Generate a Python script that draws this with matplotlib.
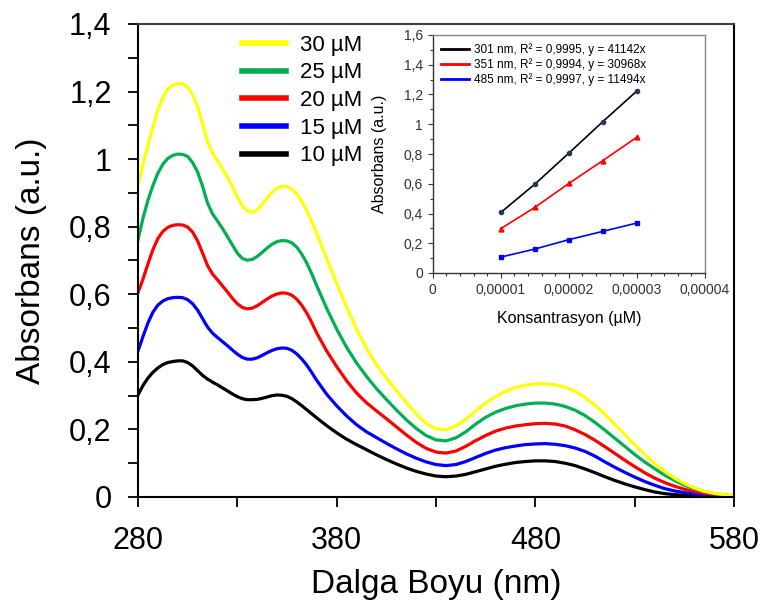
import numpy as np
import matplotlib.pyplot as plt
from matplotlib.ticker import FixedLocator, MultipleLocator, FuncFormatter

plt.rcParams['font.family'] = ['Liberation Sans', 'DejaVu Sans']

# wavelength (nm): 2.5 nm steps up to 370, then 5 nm
wl = [280, 282.5, 285, 287.5, 290, 292.5, 295, 297.5, 300, 302.5, 305, 307.5, 310, 312.5,
      315, 317.5, 320, 322.5, 325, 327.5, 330, 332.5, 335, 337.5, 340, 342.5, 345, 347.5,
      350, 352.5, 355, 357.5, 360, 362.5, 365, 367.5, 370,
      375, 380, 385, 390, 395, 400, 405, 410, 415, 420, 425, 430, 435, 440, 445, 450, 455,
      460, 465, 470, 475, 480, 485, 490, 495, 500, 505, 510, 515, 520, 525, 530, 535, 540,
      545, 550, 555, 560, 565, 570, 575, 580]

abs_30 = [0.923, 0.985, 1.042, 1.095, 1.145, 1.183, 1.207, 1.219, 1.224, 1.223, 1.213, 1.19, 1.155, 1.105,
          1.052, 1.018, 0.995, 0.972, 0.947, 0.918, 0.888, 0.862, 0.847, 0.843, 0.85, 0.866, 0.885, 0.902,
          0.914, 0.92, 0.919, 0.911, 0.896, 0.874, 0.847, 0.815, 0.78,
          0.705, 0.632, 0.562, 0.497, 0.44, 0.392, 0.352, 0.315, 0.28, 0.246, 0.218, 0.202, 0.199, 0.21,
          0.23, 0.255, 0.278, 0.297, 0.313, 0.324, 0.331, 0.335, 0.335, 0.332, 0.325, 0.313, 0.295, 0.272,
          0.245, 0.215, 0.185, 0.155, 0.126, 0.099, 0.076, 0.056, 0.04, 0.027, 0.017, 0.011, 0.007, 0.005]

abs_25 = [0.761, 0.825, 0.878, 0.922, 0.958, 0.985, 1.002, 1.011, 1.015, 1.014, 1.008, 0.99, 0.962, 0.92,
          0.87, 0.838, 0.817, 0.795, 0.771, 0.746, 0.722, 0.706, 0.701, 0.703, 0.712, 0.724, 0.737, 0.748,
          0.756, 0.759, 0.758, 0.752, 0.739, 0.718, 0.692, 0.66, 0.625,
          0.558, 0.497, 0.443, 0.397, 0.357, 0.321, 0.289, 0.258, 0.229, 0.203, 0.182, 0.169, 0.166, 0.175,
          0.193, 0.216, 0.236, 0.251, 0.262, 0.27, 0.275, 0.278, 0.278, 0.275, 0.268, 0.257, 0.241, 0.221,
          0.198, 0.174, 0.15, 0.126, 0.104, 0.084, 0.065, 0.049, 0.035, 0.024, 0.016, 0.010, 0.006, 0.004]

abs_20 = [0.605, 0.645, 0.69, 0.732, 0.765, 0.786, 0.798, 0.804, 0.806, 0.805, 0.799, 0.784, 0.758, 0.722,
          0.685, 0.66, 0.643, 0.625, 0.607, 0.588, 0.572, 0.561, 0.557, 0.559, 0.566, 0.576, 0.586, 0.595,
          0.601, 0.604, 0.603, 0.597, 0.585, 0.567, 0.544, 0.516, 0.485,
          0.432, 0.386, 0.344, 0.308, 0.279, 0.255, 0.232, 0.208, 0.184, 0.162, 0.144, 0.133, 0.13, 0.136,
          0.15, 0.167, 0.182, 0.195, 0.204, 0.21, 0.214, 0.217, 0.218, 0.216, 0.21, 0.199, 0.185, 0.168,
          0.149, 0.129, 0.109, 0.09, 0.072, 0.056, 0.043, 0.032, 0.023, 0.016, 0.011, 0.008, 0.005, 0.004]

abs_15 = [0.432, 0.475, 0.515, 0.547, 0.568, 0.58, 0.587, 0.59, 0.591, 0.59, 0.584, 0.572, 0.553, 0.528,
          0.503, 0.485, 0.472, 0.46, 0.448, 0.435, 0.423, 0.413, 0.408, 0.408, 0.412, 0.419, 0.427, 0.434,
          0.439, 0.441, 0.44, 0.434, 0.423, 0.408, 0.39, 0.368, 0.345,
          0.304, 0.27, 0.24, 0.214, 0.193, 0.176, 0.159, 0.143, 0.128, 0.115, 0.104, 0.096, 0.093, 0.096,
          0.105, 0.117, 0.129, 0.139, 0.146, 0.151, 0.155, 0.157, 0.158, 0.156, 0.152, 0.145, 0.135, 0.121,
          0.104, 0.088, 0.073, 0.059, 0.046, 0.035, 0.025, 0.018, 0.013, 0.009, 0.006, 0.005, 0.004, 0.003]

abs_10 = [0.302, 0.33, 0.352, 0.369, 0.382, 0.392, 0.398, 0.401, 0.403, 0.403, 0.398, 0.388, 0.374, 0.36,
          0.349, 0.34, 0.332, 0.323, 0.314, 0.305, 0.297, 0.291, 0.288, 0.288, 0.289, 0.292, 0.296, 0.3,
          0.302, 0.301, 0.298, 0.291, 0.281, 0.27, 0.258, 0.246, 0.234,
          0.211, 0.19, 0.171, 0.155, 0.14, 0.125, 0.111, 0.098, 0.086, 0.076, 0.068, 0.062, 0.06, 0.062,
          0.067, 0.075, 0.083, 0.091, 0.097, 0.102, 0.105, 0.107, 0.107, 0.105, 0.1, 0.093, 0.083, 0.072,
          0.06, 0.049, 0.039, 0.03, 0.022, 0.015, 0.01, 0.007, 0.005, 0.004, 0.003, 0.002, 0.002, 0.002]

series = [('10 µM', abs_10, 'black'), ('15 µM', abs_15, '#0000ff'), ('20 µM', abs_20, '#ff0000'),
          ('25 µM', abs_25, '#00b050'), ('30 µM', abs_30, '#ffff00')]

# inset: calibration at three wavelengths
conc = [0.00001, 0.000015, 0.00002, 0.000025, 0.00003]
a_301 = [0.407, 0.597, 0.806, 1.018, 1.224]
a_351 = [0.298, 0.441, 0.602, 0.756, 0.913]
a_485 = [0.107, 0.161, 0.224, 0.280, 0.336]
fit_labels = ['301 nm, R² = 0,9995, y = 41142x',
              '351 nm, R² = 0,9994, y = 30968x',
              '485 nm, R² = 0,9997, y = 11494x']


def comma_fmt(v, pos):
    if abs(v) < 1e-12:
        return '0'
    s = ('%.5f' % v).rstrip('0').rstrip('.') if v < 0.01 else '%g' % round(v, 3)
    return s.replace('.', ',')


fig = plt.figure(figsize=(7.61, 6.12), dpi=100)
ax = fig.add_axes([138 / 761, 1 - 497 / 612, (734 - 138) / 761, (497 - 24) / 612])

handles = []
for label, vals, col in series:
    h, = ax.plot(wl, vals, color=col, lw=2.3, label=label, solid_joinstyle='round')
    handles.append(h)

ax.set_xlim(280, 580)
ax.set_ylim(0, 1.4)
ax.xaxis.set_major_locator(FixedLocator([280, 380, 480, 580]))
ax.xaxis.set_minor_locator(FixedLocator([330, 430, 530]))
ax.yaxis.set_major_locator(MultipleLocator(0.2))
ax.yaxis.set_minor_locator(MultipleLocator(0.1))
ax.yaxis.set_major_formatter(FuncFormatter(comma_fmt))
ax.tick_params(which='both', direction='out', length=7, width=1.3, labelsize=22)
ax.tick_params(axis='x', pad=14)
ax.tick_params(axis='y', pad=12)
for side in ['left', 'bottom', 'right']:
    ax.spines[side].set_linewidth(1.5)
ax.spines['top'].set_linewidth(1.5)
ax.spines['top'].set_color('#404040')
ax.set_xlabel('Dalga Boyu (nm)', fontsize=24, labelpad=9)
ax.set_ylabel('Absorbans (a.u.)', fontsize=24, labelpad=16)

ax.legend(handles[::-1], [h.get_label() for h in handles[::-1]], loc='upper left',
          bbox_to_anchor=(0.148, 1.01), frameon=False, fontsize=16, handlelength=2.0,
          handletextpad=0.6, labelspacing=0.3, borderaxespad=0.3)
for line in ax.get_legend().get_lines():
    line.set_linewidth(4)

# inset
ins = fig.add_axes([432.7 / 761, 1 - 273 / 612, (705 - 432.7) / 761, (273 - 35) / 612])
ins.plot(conc, a_301, color='black', lw=1.2, marker='o', ms=3, mfc='#1f3a5a', mec='#1f3a5a', label=fit_labels[0])
ins.plot(conc, a_351, color='red', lw=1.2, marker='^', ms=3.5, label=fit_labels[1])
ins.plot(conc, a_485, color='blue', lw=1.2, marker='s', ms=3, label=fit_labels[2])
ins.set_xlim(0, 0.00004)
ins.set_ylim(0, 1.6)
ins.xaxis.set_major_locator(MultipleLocator(0.00001))
ins.xaxis.set_minor_locator(MultipleLocator(0.000002))
ins.xaxis.set_major_formatter(FuncFormatter(comma_fmt))
ins.yaxis.set_major_locator(MultipleLocator(0.2))
ins.yaxis.set_minor_locator(MultipleLocator(0.1))
ins.yaxis.set_major_formatter(FuncFormatter(comma_fmt))
ins.tick_params(which='both', direction='out', labelsize=10, length=3.5, width=0.8, colors='#333333')
ins.tick_params(which='minor', length=2.5)
for side in ['left', 'bottom']:
    ins.spines[side].set_color('#333333')
    ins.spines[side].set_linewidth(1.0)
for side in ['top', 'right']:
    ins.spines[side].set_color('#888888')
    ins.spines[side].set_linewidth(1.0)
ins.set_xlabel('Konsantrasyon (µM)', fontsize=11.5, labelpad=10)
ins.set_ylabel('Absorbans (a.u.)', fontsize=11.5, labelpad=12)
leg = ins.legend(loc='upper left', frameon=False, fontsize=8.5, handlelength=2.4,
                 handletextpad=0.4, labelspacing=0.2, borderaxespad=0.3)
for line in leg.get_lines():
    line.set_linewidth(2)
    line.set_marker('')

fig.savefig('out.png', dpi=100)
